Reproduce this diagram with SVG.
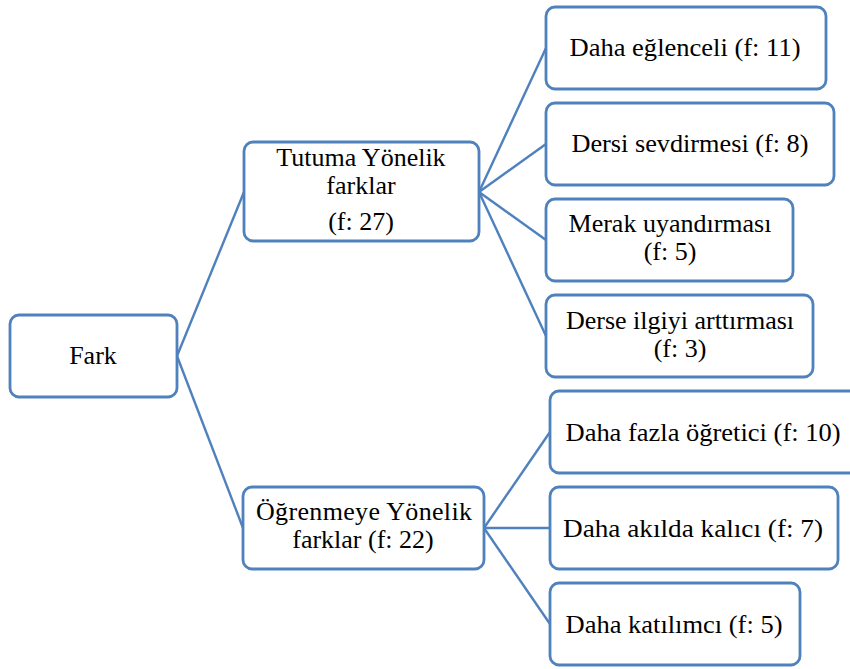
<svg xmlns="http://www.w3.org/2000/svg" width="850" height="669" viewBox="0 0 850 669">
  <style>
    .box { fill: #ffffff; stroke: #4f81bd; stroke-width: 2.8; }
    .link { fill: none; stroke: #4f81bd; stroke-width: 2.4; }
    .lbl { font-size: 26px; fill: #000000; text-anchor: middle; }
  </style>
  <rect width="850" height="669" fill="#ffffff"/>

  <!-- tree connectors: root to branches, branches to leaves -->
  <g id="connectors">
    <line class="link" x1="177" y1="356" x2="244" y2="192"/>
    <line class="link" x1="177" y1="356" x2="243" y2="528"/>
    <line class="link" x1="479" y1="192" x2="546" y2="48"/>
    <line class="link" x1="479" y1="192" x2="546" y2="144"/>
    <line class="link" x1="479" y1="192" x2="546" y2="240"/>
    <line class="link" x1="479" y1="192" x2="546" y2="336"/>
    <line class="link" x1="484" y1="528" x2="550" y2="432"/>
    <line class="link" x1="484" y1="528" x2="550" y2="528"/>
    <line class="link" x1="484" y1="528" x2="550" y2="624"/>
  </g>

  <g font-family="'Liberation Serif', 'Times New Roman', 'DejaVu Serif', serif">
  <g id="fark">
    <rect class="box" x="10" y="315" width="167" height="82" rx="9"/>
    <text class="lbl" x="93" y="364">Fark</text>
  </g>

  <g id="tutuma">
    <rect class="box" x="244" y="142" width="235" height="99" rx="9"/>
    <text class="lbl" x="361" y="166">Tutuma Yönelik</text>
    <text class="lbl" x="361" y="194">farklar</text>
    <text class="lbl" x="361" y="230">(f: 27)</text>
  </g>

  <g id="ogrenmeye">
    <rect class="box" x="243" y="487" width="241" height="82" rx="9"/>
    <text class="lbl" x="364" y="520" textLength="216" lengthAdjust="spacing">Öğrenmeye Yönelik</text>
    <text class="lbl" x="363" y="548">farklar (f: 22)</text>
  </g>

  <g id="eglenceli">
    <rect class="box" x="546" y="7" width="280" height="82" rx="9"/>
    <text class="lbl" x="685" y="56" textLength="231" lengthAdjust="spacingAndGlyphs">Daha eğlenceli (f: 11)</text>
  </g>

  <g id="sevdirmesi">
    <rect class="box" x="546" y="103" width="288" height="82" rx="9"/>
    <text class="lbl" x="690" y="152" textLength="237" lengthAdjust="spacingAndGlyphs">Dersi sevdirmesi (f: 8)</text>
  </g>

  <g id="merak">
    <rect class="box" x="546" y="199" width="247" height="82" rx="9"/>
    <text class="lbl" x="670" y="232">Merak uyandırması</text>
    <text class="lbl" x="670" y="260">(f: 5)</text>
  </g>

  <g id="ilgi">
    <rect class="box" x="546" y="295" width="267" height="82" rx="9"/>
    <text class="lbl" x="680" y="329">Derse ilgiyi arttırması</text>
    <text class="lbl" x="680" y="357">(f: 3)</text>
  </g>

  <g id="ogretici">
    <rect class="box" x="550" y="391" width="310" height="82" rx="9"/>
    <text class="lbl" x="703" y="441" textLength="275" lengthAdjust="spacingAndGlyphs">Daha fazla öğretici (f: 10)</text>
  </g>

  <g id="kalici">
    <rect class="box" x="550" y="487" width="288" height="82" rx="9"/>
    <text class="lbl" x="693" y="537" textLength="260" lengthAdjust="spacingAndGlyphs">Daha akılda kalıcı  (f: 7)</text>
  </g>

  <g id="katilimci">
    <rect class="box" x="550" y="583" width="250" height="82" rx="9"/>
    <text class="lbl" x="674" y="633" textLength="217" lengthAdjust="spacingAndGlyphs">Daha katılımcı (f: 5)</text>
  </g>
  </g>
</svg>
